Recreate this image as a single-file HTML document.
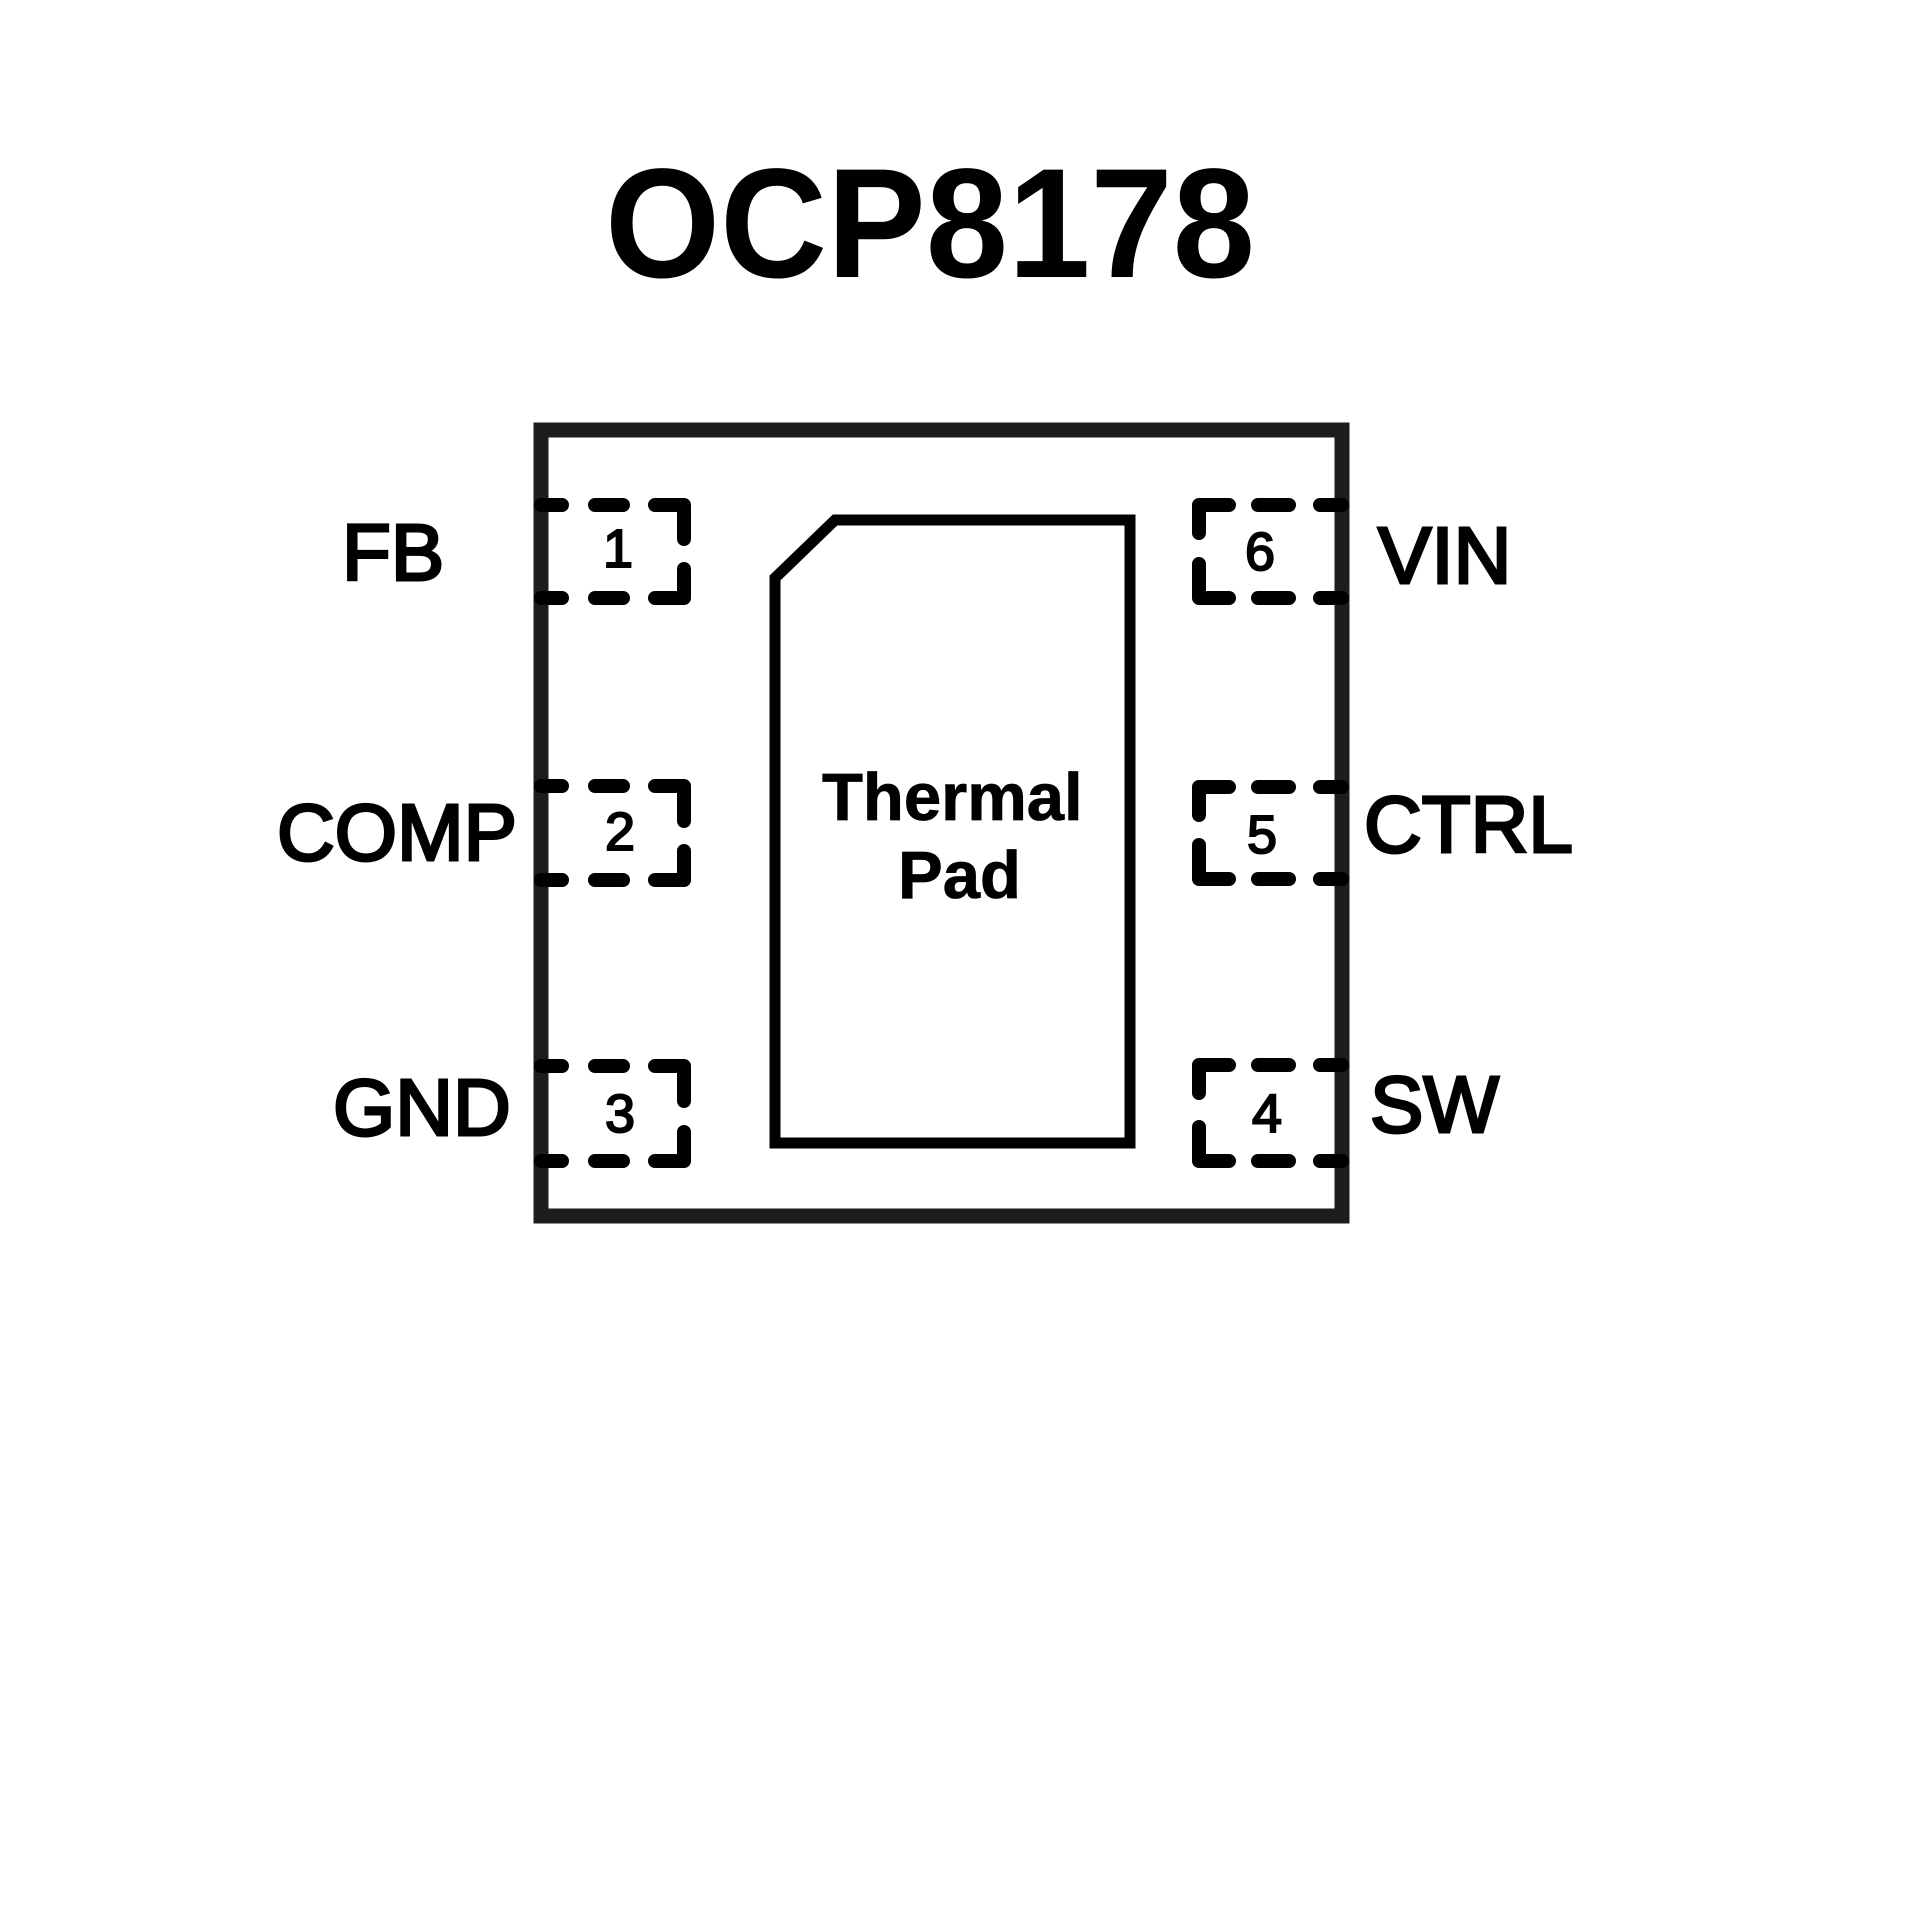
<!DOCTYPE html>
<html>
<head>
<meta charset="utf-8">
<style>
  html, body { margin: 0; padding: 0; background: #ffffff; }
  body { width: 1920px; height: 1920px; overflow: hidden; }
  svg { display: block; }
</style>
</head>
<body>
<svg width="1920" height="1920" viewBox="0 0 1920 1920" xmlns="http://www.w3.org/2000/svg">
  <rect x="0" y="0" width="1920" height="1920" fill="#ffffff"/>

  <!-- Title -->
  <text x="605" y="277" font-family="'Liberation Sans', Arial, sans-serif" font-weight="700" font-size="156" textLength="650" lengthAdjust="spacingAndGlyphs" fill="#000">OCP8178</text>

  <!-- Package outline -->
  <rect x="541" y="430" width="801" height="786" fill="none" stroke="#1f1c1c" stroke-width="15"/>

  <!-- Thermal pad -->
  <polygon points="775,578 835,520 1130,520 1130,1143 775,1143" fill="none" stroke="#000" stroke-width="11" stroke-linejoin="miter"/>
  <text x="822" y="820" font-family="'Liberation Sans', Arial, sans-serif" font-weight="700" font-size="67" fill="#000" stroke="#000" stroke-width="0.8">Thermal</text>
  <text x="898" y="898" font-family="'Liberation Sans', Arial, sans-serif" font-weight="700" font-size="67" fill="#000" stroke="#000" stroke-width="0.8">Pad</text>

  <!-- Pads (dashed) -->
  <g fill="none" stroke="#000" stroke-width="14" stroke-linecap="round" stroke-linejoin="round">
    <!-- Pad 1 -->
    <path d="M541,505 H562 M595,505 H623 M655,505 H684 V539 M684,569 V598 H655 M623,598 H595 M562,598 H541"/>
    <!-- Pad 2 -->
    <path d="M541,786 H562 M595,786 H623 M655,786 H684 V821 M684,851 V880 H655 M623,880 H595 M562,880 H541"/>
    <!-- Pad 3 -->
    <path d="M541,1066 H562 M595,1066 H623 M655,1066 H684 V1101 M684,1132 V1161 H655 M623,1161 H595 M562,1161 H541"/>

    <!-- Pad 6 -->
    <path d="M1342,505 H1320 M1289,505 H1258 M1229,505 H1199 V533 M1199,564 V598 H1229 M1258,598 H1289 M1320,598 H1342"/>
    <!-- Pad 5 -->
    <path d="M1342,787 H1320 M1289,787 H1258 M1229,787 H1199 V815 M1199,845 V879 H1229 M1258,879 H1289 M1320,879 H1342"/>
    <!-- Pad 4 -->
    <path d="M1342,1065 H1320 M1289,1065 H1258 M1229,1065 H1199 V1093 M1199,1127 V1161 H1229 M1258,1161 H1289 M1320,1161 H1342"/>
  </g>

  <!-- Pin numbers -->
  <g font-family="'Liberation Sans', Arial, sans-serif" font-size="54" fill="#000" text-anchor="middle" stroke="#000" stroke-width="2">
    <text x="618" y="567">1</text>
    <text x="620" y="850">2</text>
    <text x="620" y="1132">3</text>
    <text x="1267" y="1132">4</text>
    <text x="1262" y="853">5</text>
    <text x="1260" y="570">6</text>
  </g>

  <!-- Pin labels -->
  <g font-family="'Liberation Sans', Arial, sans-serif" font-size="80" fill="#000" stroke="#000" stroke-width="3">
    <text x="342" y="580">FB</text>
    <text x="277" y="860">COMP</text>
    <text x="333" y="1135">GND</text>
    <text x="1378" y="583">VIN</text>
    <text x="1364" y="852">CTRL</text>
    <text x="1370" y="1132">SW</text>
  </g>
</svg>
</body>
</html>
